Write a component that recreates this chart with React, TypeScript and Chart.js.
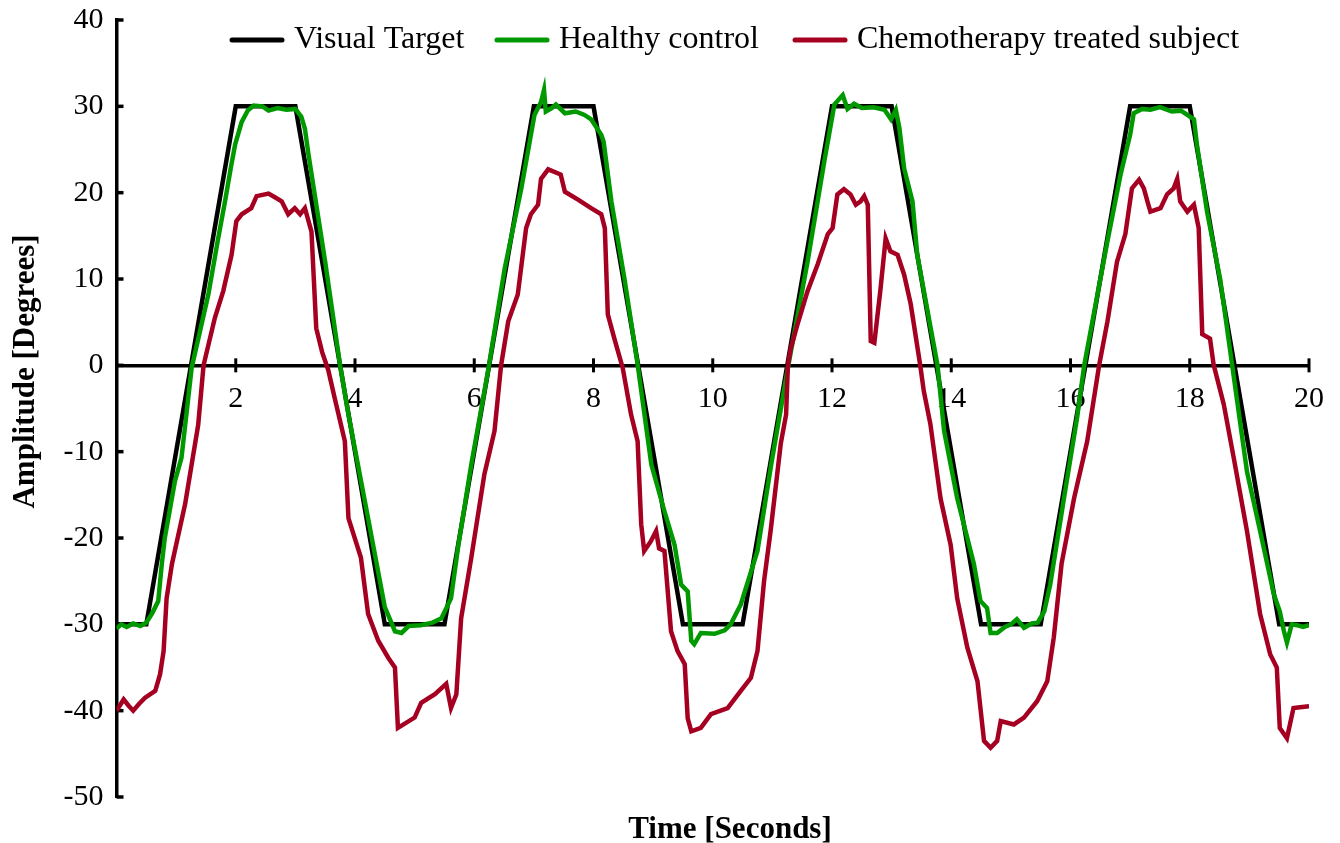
import React, { useEffect, useRef } from 'react';
import { Chart, registerables } from 'chart.js';

Chart.register(...registerables);

const FONT = '"Liberation Serif", "Times New Roman", serif';

const seriesLabels = ['Visual Target', 'Healthy control', 'Chemotherapy treated subject'];
const seriesColors = ['#000000', '#009900', '#a50021'];

const xTickValues = [0, 2, 4, 6, 8, 10, 12, 14, 16, 18, 20];
const yTickValues = [-50, -40, -30, -20, -10, 0, 10, 20, 30, 40];

const targetX = [0, 0.5, 2, 3, 4.5, 5.5, 7, 8, 9.5, 10.5, 12, 13, 14.5, 15.5, 17, 18, 19.5, 20];
const targetY = [-30, -30, 30, 30, -30, -30, 30, 30, -30, -30, 30, 30, -30, -30, 30, 30, -30, -30];

const healthyX = [
  0, 0.08, 0.17, 0.28, 0.4, 0.5, 0.6, 0.7, 0.76, 0.81, 0.98, 1.09, 1.26, 1.54, 1.7, 1.82, 1.92, 1.99, 2.1, 2.2,
  2.3, 2.45, 2.55, 2.7, 2.85, 3.0, 3.1, 3.16, 3.22, 3.5, 3.75, 3.89, 4.2, 4.5, 4.67, 4.78, 4.9, 5.1, 5.3, 5.45,
  5.61, 5.73, 5.95, 6.23, 6.51, 6.79, 7.01, 7.12, 7.17, 7.2, 7.3, 7.37, 7.52, 7.7, 7.85, 7.96, 8.13, 8.17, 8.3, 8.52,
  8.74, 8.97, 9.19, 9.36, 9.47, 9.58, 9.64, 9.69, 9.8, 10.03, 10.2, 10.3, 10.47, 10.75, 10.98, 11.26, 11.59, 11.87, 12.04, 12.18,
  12.26, 12.37, 12.5, 12.7, 12.88, 12.99, 13.07, 13.13, 13.21, 13.35, 13.43, 13.77, 13.88, 14.1, 14.38, 14.49, 14.6, 14.66, 14.77, 14.9,
  15.0, 15.1, 15.22, 15.35, 15.45, 15.56, 15.66, 15.89, 16.11, 16.23, 16.62, 16.84, 17.0, 17.06, 17.2, 17.34, 17.5, 17.7, 17.85, 17.96,
  18.07, 18.12, 18.29, 18.51, 18.71, 18.96, 19.18, 19.41, 19.51, 19.58, 19.63, 19.71, 19.8, 19.9, 20,
];
const healthyY = [
  -30.5, -30.0, -30.3, -29.9, -30.2, -29.8, -28.7, -27.3, -23, -20, -13.4, -10.7, -0.3, 8.2, 14.5, 19, 23, 25.6, 28.2, 29.5,
  30.1, 30.0, 29.5, 29.8, 29.6, 29.7, 28.8, 27.4, 24.4, 12, 0, -5.7, -17, -28, -30.8, -31, -30.2, -30.1, -29.8, -29.3,
  -27, -21, -11.5, -0.7, 11.2, 20.5, 29, 30.5, 31.9, 29.4, 29.8, 30.2, 29.2, 29.4, 29.0, 28.5, 26.7, 25.9, 19, 10,
  0.1, -11.5, -16.9, -20.8, -25.4, -26.2, -31.9, -32.3, -31, -31.1, -30.7, -30, -27.7, -21.5, -11.5, -0.3, 12, 23.6, 30.2, 31.3,
  29.7, 30.3, 29.8, 29.9, 29.6, 28.5, 29.6, 27.5, 22.8, 19, 12.8, 0, -7.6, -15.4, -23, -27.3, -28.1, -31, -31, -30.3,
  -30, -29.4, -30.4, -29.9, -29.8, -28.5, -25.4, -15.4, -6.1, 0, 14.4, 22.1, 26.7, 29.2, 29.7, 29.6, 29.9, 29.4, 29.5, 29.0,
  28.5, 25.6, 17.8, 10, 0.1, -12.3, -19.2, -26.5, -28.5, -30.8, -32.1, -30, -30.1, -30.3, -30.1,
];

const chemoX = [
  0, 0.12, 0.2, 0.28, 0.38, 0.48, 0.65, 0.73, 0.79, 0.84, 0.93, 1.15, 1.37, 1.46, 1.65, 1.79, 1.93, 2.01, 2.1, 2.26,
  2.35, 2.55, 2.65, 2.77, 2.88, 2.99, 3.08, 3.16, 3.27, 3.35, 3.45, 3.55, 3.66, 3.83, 3.89, 4.1, 4.22, 4.39, 4.56, 4.67,
  4.72, 5.0, 5.11, 5.34, 5.53, 5.61, 5.7, 5.78, 5.95, 6.17, 6.34, 6.45, 6.57, 6.73, 6.87, 6.95, 7.07, 7.12, 7.24, 7.45,
  7.52, 7.74, 7.96, 8.13, 8.19, 8.24, 8.35, 8.49, 8.63, 8.74, 8.8, 8.85, 8.96, 9.05, 9.1, 9.19, 9.3, 9.41, 9.53, 9.58,
  9.64, 9.8, 9.97, 10.25, 10.47, 10.64, 10.75, 10.86, 10.97, 11.14, 11.23, 11.26, 11.31, 11.42, 11.59, 11.76, 11.93, 12.01, 12.09, 12.2,
  12.31, 12.4, 12.48, 12.54, 12.6, 12.65, 12.71, 12.81, 12.9, 12.98, 13.1, 13.21, 13.32, 13.48, 13.54, 13.65, 13.82, 13.99, 14.1, 14.27,
  14.44, 14.55, 14.66, 14.77, 14.83, 15.05, 15.22, 15.44, 15.61, 15.72, 15.85, 16.06, 16.28, 16.48, 16.62, 16.78, 16.92, 17.03, 17.15, 17.23,
  17.29, 17.34, 17.51, 17.62, 17.73, 17.79, 17.84, 17.96, 18.07, 18.15, 18.21, 18.34, 18.4, 18.57, 18.74, 18.96, 19.18, 19.35, 19.46, 19.51,
  19.63, 19.74, 19.85, 20,
];
const chemoY = [
  -40, -38.7, -39.4, -40, -39.2, -38.5, -37.7, -35.8, -33.1, -27, -23, -16.1, -6.9, 0, 5.5, 8.6, 12.8, 16.7, 17.5, 18.2,
  19.6, 19.9, 19.5, 19, 17.5, 18.2, 17.5, 18.2, 15.5, 4.3, 1.5, -0.5, -3.8, -8.8, -17.7, -22.3, -28.8, -31.9, -33.9, -35,
  -42, -40.8, -39.1, -38.1, -36.9, -39.7, -38.1, -29.3, -22.3, -12.6, -7.6, 0, 5.1, 8.2, 15.9, 17.5, 18.6, 21.6, 22.7, 22.1,
  20.1, 19.2, 18.2, 17.5, 15.9, 5.9, 3.1, -0.3, -5.7, -8.8, -18.4, -21.5, -20.4, -19.2, -21.2, -21.5, -30.8, -33.1, -34.6, -40.9,
  -42.4, -42, -40.4, -39.7, -37.7, -36.2, -33.1, -25, -19.2, -9.1, -5.7, 0, 2, 4.7, 8.6, 11.7, 15.2, 15.9, 19.8, 20.4,
  19.8, 18.6, 19, 19.6, 18.6, 2.8, 2.6, 8.6, 14.7, 13.2, 12.8, 10.5, 7.1, 0, -3, -6.8, -15.4, -20.8, -27, -32.7,
  -36.6, -43.5, -44.3, -43.5, -41.2, -41.6, -40.8, -38.9, -36.6, -31.5, -23, -15.4, -8.8, 0, 5.1, 12, 15.2, 20.5, 21.5, 20.5,
  19, 17.8, 18.2, 19.8, 20.5, 21.6, 19, 17.8, 18.6, 15.9, 3.6, 3.1, 0.1, -4.5, -10.8, -19.2, -28.8, -33.5, -35, -42,
  -43.2, -39.7, -39.6, -39.5,
];

const toPoints = (xs: number[], ys: number[]) => xs.map((x, i) => ({ x, y: ys[i] }));

export default function App() {
  const canvasRef = useRef<HTMLCanvasElement>(null);

  useEffect(() => {
    const canvas = canvasRef.current;
    if (!canvas) return;

    const legendSampleX = [232, 497, 795];

    const overlay = {
      id: 'overlay',
      beforeDatasetsDraw(chart: any) {
        const { ctx, chartArea, scales } = chart;
        const xs = scales.x;
        const ys = scales.y;
        ctx.save();
        ctx.strokeStyle = '#000';
        ctx.lineWidth = 3.5;
        ctx.lineCap = 'butt';
        ys.ticks.forEach((t: any) => {
          const py = ys.getPixelForValue(t.value);
          ctx.beginPath();
          ctx.moveTo(chartArea.left, py);
          ctx.lineTo(chartArea.left + 7, py);
          ctx.stroke();
        });
        const y0 = ys.getPixelForValue(0);
        ctx.lineWidth = 3;
        xs.ticks.forEach((t: any) => {
          if (t.value === 0) return;
          const px = xs.getPixelForValue(t.value);
          ctx.beginPath();
          ctx.moveTo(px, y0 - 7);
          ctx.lineTo(px, y0 + 7);
          ctx.stroke();
        });
        ctx.restore();
      },
      afterDraw(chart: any) {
        const { ctx } = chart;
        ctx.save();
        // legend
        ctx.font = `32px ${FONT}`;
        ctx.textBaseline = 'middle';
        ctx.textAlign = 'left';
        const ly = 40;
        chart.data.datasets.forEach((ds: any, i: number) => {
          const cx = legendSampleX[i];
          ctx.strokeStyle = ds.borderColor;
          ctx.lineWidth = 5;
          ctx.lineCap = 'round';
          ctx.beginPath();
          ctx.moveTo(cx, ly);
          ctx.lineTo(cx + 50, ly);
          ctx.stroke();
          ctx.fillStyle = '#000';
          ctx.fillText(ds.label, cx + 62, ly);
        });
        // axis titles
        ctx.font = `bold 31px ${FONT}`;
        ctx.textAlign = 'center';
        ctx.textBaseline = 'alphabetic';
        ctx.fillText('Time [Seconds]', 730, 838);
        ctx.translate(34, 371.5);
        ctx.rotate(-Math.PI / 2);
        ctx.fillText('Amplitude [Degrees]', 0, 0);
        ctx.restore();
      },
    };

    const chart = new Chart(canvas, {
      type: 'line',
      data: {
        datasets: [
          {
            label: seriesLabels[0],
            data: toPoints(targetX, targetY),
            borderColor: seriesColors[0],
            borderWidth: 4.5,
            pointRadius: 0,
            tension: 0,
            order: 2,
          },
          {
            label: seriesLabels[1],
            data: toPoints(healthyX, healthyY),
            borderColor: seriesColors[1],
            borderWidth: 4.5,
            pointRadius: 0,
            tension: 0,
            order: 1,
          },
          {
            label: seriesLabels[2],
            data: toPoints(chemoX, chemoY),
            borderColor: seriesColors[2],
            borderWidth: 4.5,
            pointRadius: 0,
            tension: 0,
            order: 0,
          },
        ],
      },
      options: {
        animation: false,
        responsive: false,
        maintainAspectRatio: false,
        layout: { padding: { left: 0, top: 20, right: 27, bottom: 46 } },
        plugins: {
          legend: { display: false },
          tooltip: { enabled: false },
          title: { display: false },
        },
        scales: {
          x: {
            type: 'linear',
            min: 0,
            max: 20,
            position: { y: 0 } as any,
            afterBuildTicks: (scale: any) => {
              scale.ticks = xTickValues.map((v) => ({ value: v }));
            },
            ticks: {
              callback: (v: any) => (v === 0 ? '' : String(v)),
              font: { family: FONT, size: 30 },
              color: '#000',
              padding: 16,
              maxRotation: 0,
              autoSkip: false,
            },
            grid: { display: false, drawTicks: false },
            border: { display: true, color: '#000', width: 3.5 },
          },
          y: {
            type: 'linear',
            min: -50,
            max: 40,
            afterBuildTicks: (scale: any) => {
              scale.ticks = yTickValues.map((v) => ({ value: v }));
            },
            afterFit: (scale: any) => {
              scale.width = 116.5;
              scale.paddingTop = 0;
              scale.paddingBottom = 0;
            },
            ticks: {
              font: { family: FONT, size: 30 },
              color: '#000',
              padding: 13,
            },
            grid: { display: false, drawTicks: false },
            border: { display: true, color: '#000', width: 3.5 },
          },
        },
      },
      plugins: [overlay],
    });

    return () => chart.destroy();
  }, []);

  return (
    <div style={{ position: 'fixed', left: 0, top: 0, width: 1340, height: 843, background: '#fff' }}>
      <canvas ref={canvasRef} width={1340} height={843} style={{ display: 'block', width: 1340, height: 843 }} />
    </div>
  );
}
